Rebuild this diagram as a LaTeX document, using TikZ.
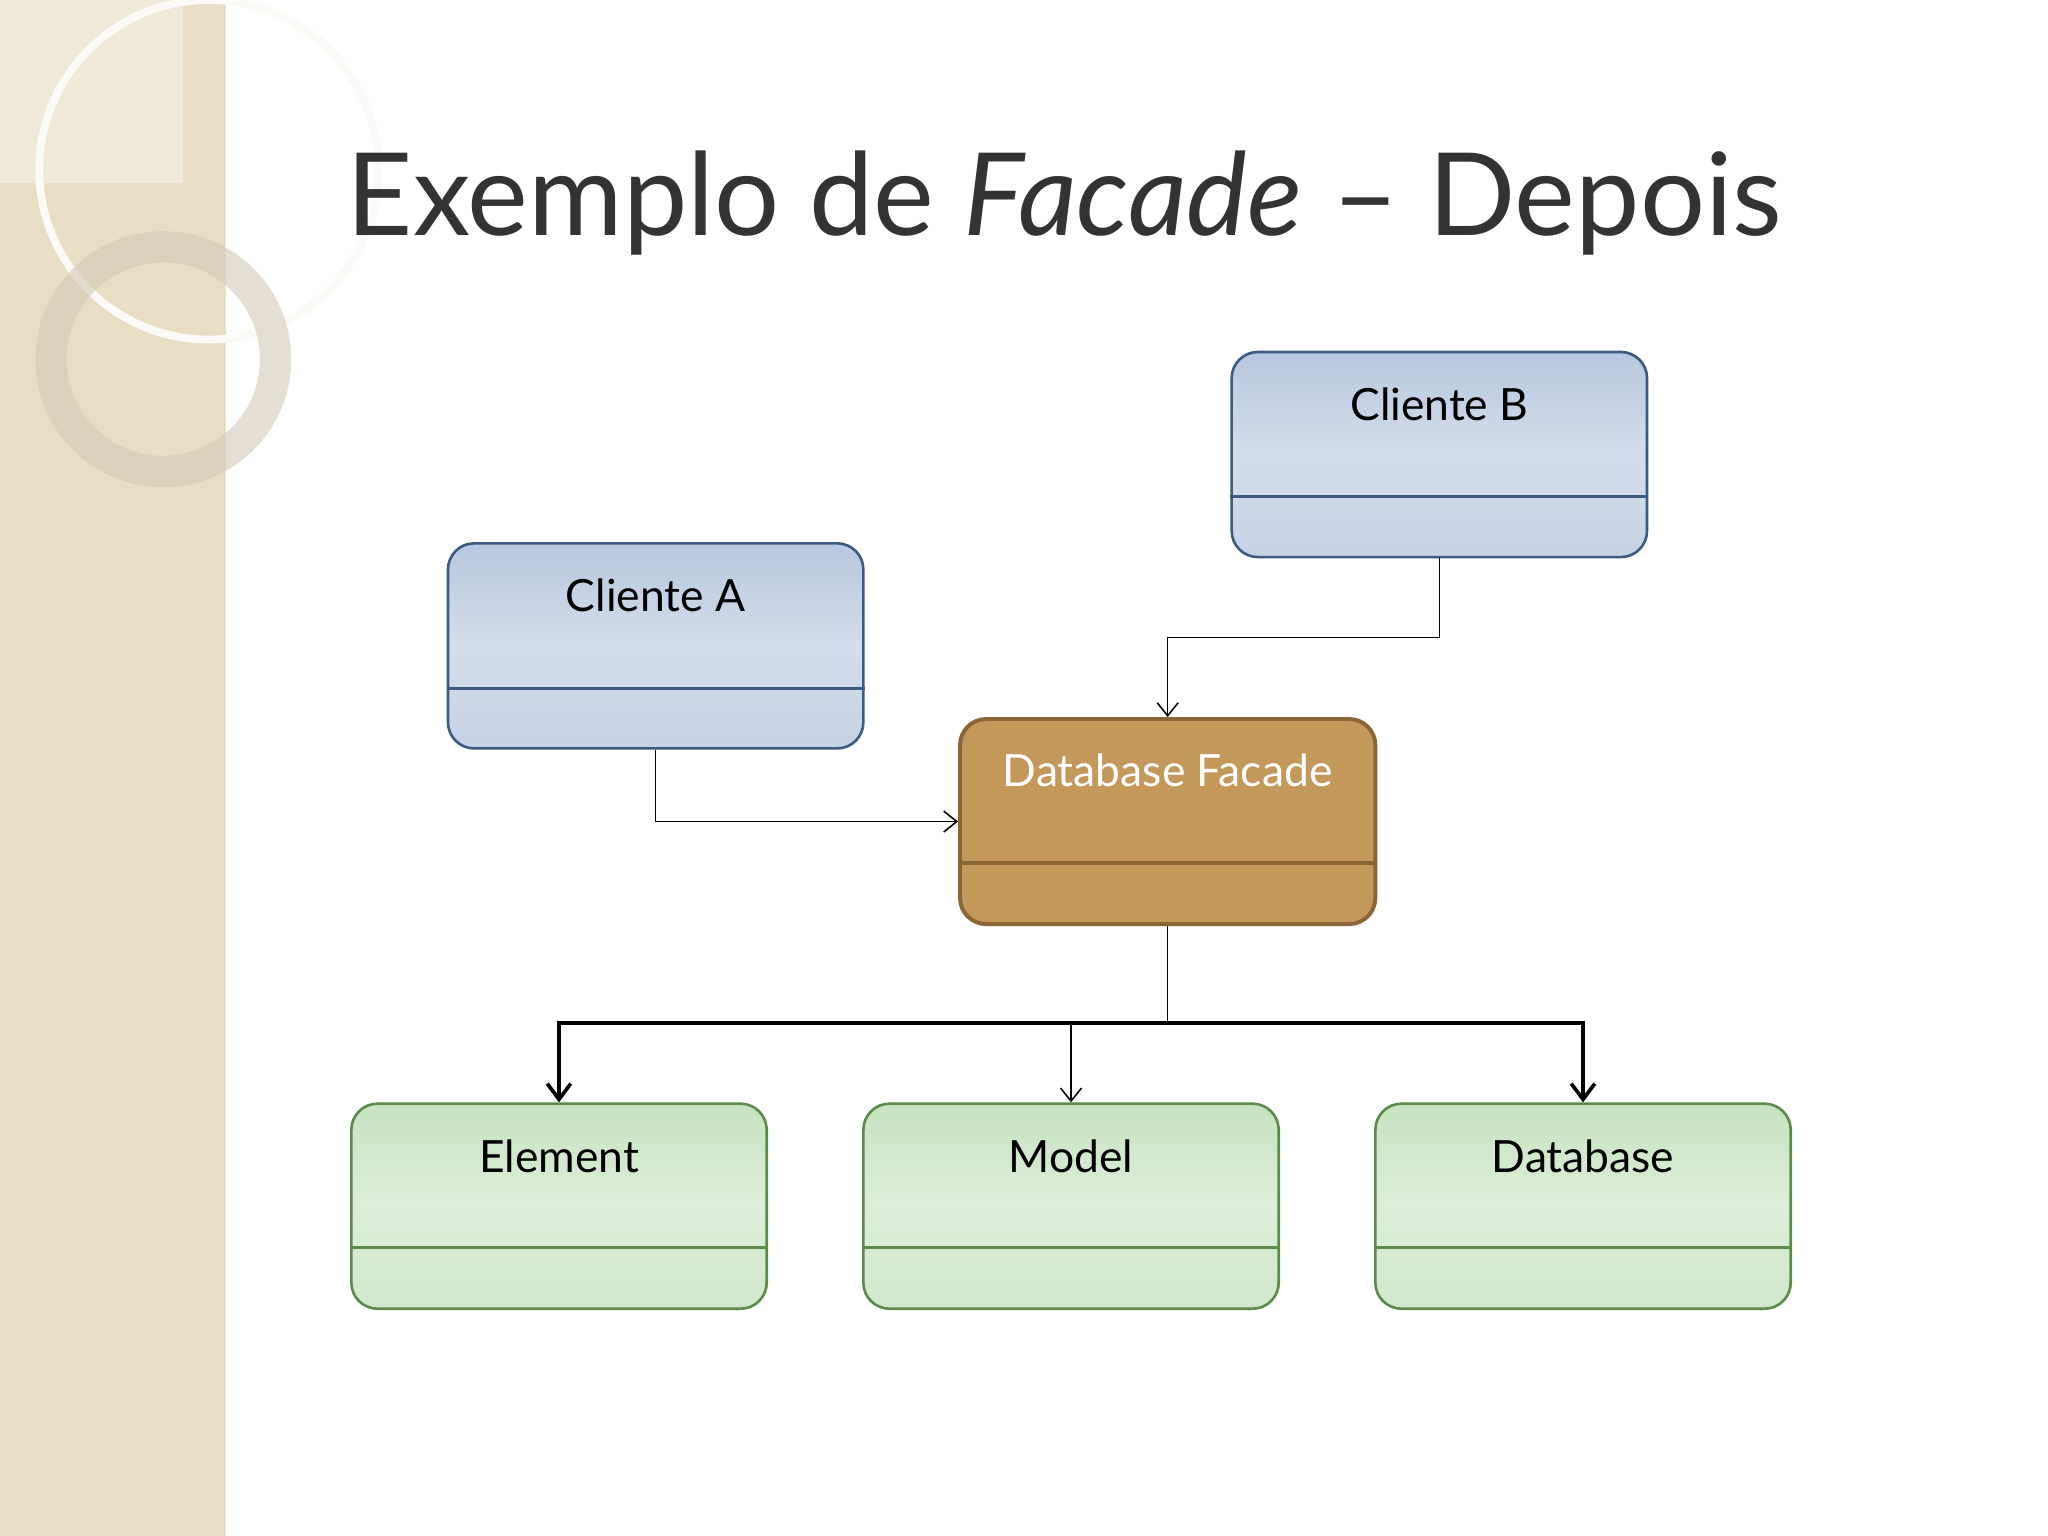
\documentclass[tikz,border=0pt]{standalone}
\usepackage{fontspec}
\setmainfont{Lato}
\usetikzlibrary{arrows.meta}
\definecolor{beige}{HTML}{E9DEC4}
\definecolor{bluebox}{HTML}{B7C7DF}
\definecolor{bluebord}{HTML}{3D5A80}
\definecolor{greenbox}{HTML}{C6E3C0}
\definecolor{greenbord}{HTML}{5C8A4A}
\definecolor{brownbox}{HTML}{C4975A}
\definecolor{brownbord}{HTML}{8A6535}
\tikzset{
 box/.style={draw, line width=1pt, rounded corners=10pt, minimum width=159pt, minimum height=78.5pt, inner sep=0pt},
 bluebx/.style={box, draw=bluebord, top color=bluebox, bottom color=bluebox!80!white, middle color=bluebox!60!white},
 greenbx/.style={box, draw=greenbord, top color=greenbox, bottom color=greenbox!85!white, middle color=greenbox!60!white},
 brownbx/.style={box, draw=brownbord, line width=1.5pt, fill=brownbox},
 lbl/.style={font=\fontsize{17}{20}\selectfont, anchor=north, inner sep=0pt},
 thin/.style={line width=0.6pt, -{Straight Barb[length=5pt,width=8pt]}},
 thick/.style={line width=1.4pt, -{Straight Barb[length=6pt,width=9pt]}}
}
\begin{document}
\begin{tikzpicture}[x=0.5pt,y=-0.5pt]
\useasboundingbox (0,0) rectangle (1568,1176);
\fill[white] (0,0) rectangle (1568,1176);
\fill[beige] (0,0) rectangle (173,1176);
\fill[white, opacity=0.35] (0,0) rectangle (140,140);
\draw[white!85!beige, line width=3pt] (160,130) circle (130);
\draw[beige!80!gray, line width=12pt, opacity=0.6] (125,275) circle (86);
\node[anchor=base west, inner sep=0pt, text=black!80, font=\fontsize{44}{50}\selectfont] (title) at (265,180) {Exemplo de \textit{Facade} – Depois};
% boxes
\node[bluebx] (cb) at (1102,348) {};
\node[bluebx] (ca) at (502,494.5) {};
\node[brownbx] (df) at (894,629) {};
\node[greenbx] (el) at (428,923.5) {};
\node[greenbx] (mo) at (820,923.5) {};
\node[greenbx] (db) at (1212,923.5) {};
% dividers
\draw[bluebord, line width=1pt] (cb.west |- 0,380) -- (cb.east |- 0,380);
\draw[bluebord, line width=1pt] (ca.west |- 0,527) -- (ca.east |- 0,527);
\draw[brownbord, line width=1.5pt] (df.west |- 0,661) -- (df.east |- 0,661);
\foreach \n in {el,mo,db} \draw[greenbord, line width=1pt] (\n.west |- 0,955) -- (\n.east |- 0,955);
% labels
\node[lbl] (tcb) at ([yshift=-14pt]cb.north) {Cliente B};
\node[lbl] (tca) at ([yshift=-14pt]ca.north) {Cliente A};
\node[lbl, text=white] (tdf) at ([yshift=-14pt]df.north) {Database Facade};
\node[lbl] (tel) at ([yshift=-14pt]el.north) {Element};
\node[lbl] (tmo) at ([yshift=-14pt]mo.north) {Model};
\node[lbl] (tdb) at ([yshift=-14pt]db.north) {Database};
% connectors
\draw[thin] (cb.south) |- (894,488) -- (df.north);
\draw[thin] (ca.south) |- (df.west |- 0,629);
\coordinate (j) at (894,783);
\draw[line width=0.6pt] (df.south) -- (j);
\draw[thick] (j) -| (el.north);
\draw[thick] (j) -| (db.north);
\draw[thin] (mo.north |- j) -- (mo.north);
\end{tikzpicture}
\end{document}
